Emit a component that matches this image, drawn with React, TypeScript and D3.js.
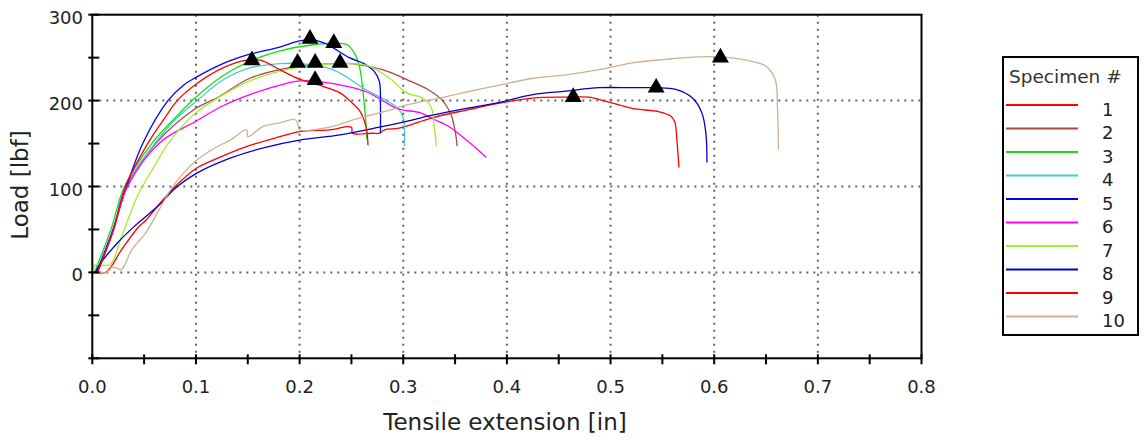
import React from "react";
import * as d3 from "d3";

type P = [number, number];

const specimens = ["1", "2", "3", "4", "5", "6", "7", "8", "9", "10"];
const colors = ["#ff0000", "#a64848", "#10e010", "#44cccc", "#0000ff", "#ff00ff", "#a2ee30", "#0000c8", "#ff0000", "#cfb08f"];

const s1: P[] = [[0,0],[0.013,0],[0.028,26],[0.044,52],[0.052,61],[0.065,80],[0.08,100],[0.1,121],[0.121,133],[0.15,147],[0.181,158],[0.2,164],[0.229,166],[0.25,169],[0.251,162],[0.27,162],[0.277,162],[0.282,166],[0.296,168],[0.328,180],[0.361,189],[0.393,197],[0.425,203],[0.457,204],[0.479,204],[0.496,199],[0.521,191],[0.547,187],[0.558,182],[0.562,175],[0.564,154],[0.566,122]];
const s2: P[] = [[0.005,0],[0.02,48],[0.033,100],[0.062,151],[0.1,191],[0.12,203],[0.152,226],[0.181,236],[0.2,240],[0.232,243],[0.25,243],[0.28,236],[0.306,223],[0.325,212],[0.338,200],[0.346,184],[0.35,165],[0.352,147]];
const s3: P[] = [[0.002,0],[0.018,50],[0.031,100],[0.058,151],[0.08,180],[0.099,203],[0.126,229],[0.152,246],[0.181,258],[0.213,265],[0.233,267],[0.246,265],[0.253,255],[0.258,238],[0.263,188],[0.265,155]];
const s4: P[] = [[0.004,0],[0.02,50],[0.032,100],[0.061,151],[0.08,178],[0.102,201],[0.126,224],[0.152,238],[0.181,243],[0.2,243],[0.232,236],[0.265,212],[0.284,200],[0.295,191],[0.3,180],[0.301,147]];
const s5: P[] = [[0.004,0],[0.02,50],[0.033,100],[0.049,151],[0.073,200],[0.088,218],[0.1,227],[0.126,243],[0.152,254],[0.18,262],[0.198,269],[0.21,271],[0.224,267],[0.248,250],[0.262,243],[0.272,234],[0.277,222],[0.278,195],[0.278,162]];
const s6: P[] = [[0.005,0],[0.02,48],[0.034,100],[0.065,151],[0.1,176],[0.126,194],[0.152,207],[0.181,218],[0.2,223],[0.219,222],[0.248,216],[0.265,210],[0.28,200],[0.296,190],[0.316,186],[0.33,178],[0.345,169],[0.361,154],[0.38,134]];
const s7: P[] = [[0,0],[0.003,9],[0.017,9],[0.028,41],[0.044,90],[0.059,122],[0.072,148],[0.085,168],[0.1,186],[0.117,200],[0.15,222],[0.18,234],[0.2,239],[0.239,243],[0.265,241],[0.287,226],[0.303,209],[0.319,203],[0.327,192],[0.33,168],[0.332,147]];
const s8: P[] = [[0.003,0],[0.007,9],[0.024,34],[0.04,53],[0.065,79],[0.08,98],[0.1,115],[0.133,133],[0.165,145],[0.2,154],[0.239,160],[0.277,169],[0.3,175],[0.328,183],[0.361,191],[0.393,198],[0.425,207],[0.457,211],[0.489,215],[0.521,215],[0.544,215],[0.563,213],[0.579,203],[0.588,186],[0.592,162],[0.593,128]];
const s9: P[] = [[0.005,0],[0.02,48],[0.032,100],[0.054,151],[0.07,180],[0.082,200],[0.1,219],[0.126,238],[0.149,247],[0.162,247],[0.184,234],[0.2,225],[0.219,218],[0.239,209],[0.251,197],[0.258,188],[0.264,170],[0.266,148]];
const s10: P[] = [[0,0],[0.014,0],[0.016,5],[0.024,5],[0.027,3],[0.03,6],[0.038,26],[0.052,47],[0.064,72],[0.076,97],[0.089,117],[0.1,130],[0.117,144],[0.133,154],[0.149,166],[0.15,158],[0.165,170],[0.181,174],[0.195,178],[0.198,174],[0.2,166],[0.229,169],[0.253,178],[0.265,182],[0.287,189],[0.3,194],[0.319,199],[0.335,203],[0.361,210],[0.393,218],[0.425,226],[0.457,230],[0.489,236],[0.521,244],[0.553,248],[0.585,251],[0.605,251],[0.631,247],[0.65,240],[0.659,224],[0.661,193],[0.662,143]];

const series: P[][] = [s1, s2, s3, s4, s5, s6, s7, s8, s9, s10];

const peakX = [0.464, 0.215, 0.233, 0.198, 0.21, 0.215, 0.239, 0.544, 0.154, 0.606];
const peakY = [204, 244, 267, 244, 272, 224, 244, 215, 247, 250];

const xTickLabels = [0, 0.1, 0.2, 0.3, 0.4, 0.5, 0.6, 0.7, 0.8];
const yTickLabels = [0, 100, 200, 300];

export default function App() {
  const W = 1143, H = 441;
  const L = 92.3, R = 921.5, T = 14.7, B = 358.3;
  const x = d3.scaleLinear().domain([0, 0.8]).range([L, R]);
  const y = d3.scaleLinear().domain([-100, 300]).range([B, T]);
  const line = d3.line<P>().x(d => x(d[0])).y(d => y(d[1])).curve(d3.curveCatmullRom.alpha(0.5));
  const tri = d3.symbol().type(d3.symbolTriangle).size(125)();
  const xMinor = d3.range(0, 0.8001, 0.05);
  const yMinor = d3.range(-100, 300.1, 50);
  const font = "'DejaVu Sans', Verdana, sans-serif";
  const gridX = [0.1, 0.2, 0.3, 0.4, 0.5, 0.6, 0.7];
  const gridY = [0, 100, 200];

  return (
    <svg width={W} height={H} style={{ position: "absolute", left: 0, top: 0, background: "#fff" }} fontFamily={font}>
      <rect x={0} y={0} width={W} height={H} fill="#fff" />
      {gridX.map(v => (
        <line key={"gx" + v} x1={x(v)} x2={x(v)} y1={T} y2={B} stroke="#666" strokeWidth={2} strokeDasharray="2,5" />
      ))}
      {gridY.map(v => (
        <line key={"gy" + v} x1={L} x2={R} y1={y(v)} y2={y(v)} stroke="#666" strokeWidth={2} strokeDasharray="2,5" />
      ))}
      <g>
        {series.map((s, i) => (
          <path key={"s" + i} d={line(s) || ""} fill="none" stroke={colors[i]} strokeWidth={1.3} strokeLinejoin="round" />
        ))}
      </g>
      <g>
        {peakX.map((px, i) => (
          <path key={"m" + i} d={tri || ""} transform={`translate(${x(px)},${y(peakY[i])})`} fill="#000" />
        ))}
      </g>
      <rect x={L} y={T} width={R - L} height={B - T} fill="none" stroke="#000" strokeWidth={2} />
      {xMinor.map(v => (
        <line key={"xt" + v} x1={x(v)} x2={x(v)} y1={B - 4} y2={B + 6} stroke="#000" strokeWidth={2} />
      ))}
      {yMinor.map(v => (
        <line key={"yt" + v} x1={L - 4} x2={L + 7} y1={y(v)} y2={y(v)} stroke="#000" strokeWidth={2} />
      ))}
      {xTickLabels.map(v => (
        <text key={"xl" + v} x={x(v)} y={393} textAnchor="middle" fontSize={18} fill="#222">{d3.format(".1f")(v)}</text>
      ))}
      {yTickLabels.map(v => (
        <text key={"yl" + v} x={83} y={y(v) + 9} textAnchor="end" fontSize={18} fill="#222">{v}</text>
      ))}
      <text x={505} y={430} textAnchor="middle" fontSize={23} fill="#222">Tensile extension [in]</text>
      <text transform="translate(28,185) rotate(-90)" textAnchor="middle" fontSize={23} fill="#222">Load [lbf]</text>
      <g>
        <rect x={1003} y={57} width={135} height={278} fill="#fff" stroke="#000" strokeWidth={2} />
        <text x={1009} y={83} fontSize={18.5} fill="#333">Specimen #</text>
        {specimens.map((s, i) => {
          const yy = 105 + i * 23.5;
          return (
            <g key={"lg" + s}>
              <line x1={1006} x2={1078} y1={yy} y2={yy} stroke={colors[i]} strokeWidth={2} />
              <text x={1102} y={yy + 10.5} fontSize={18} fill="#222">{s}</text>
            </g>
          );
        })}
      </g>
    </svg>
  );
}
